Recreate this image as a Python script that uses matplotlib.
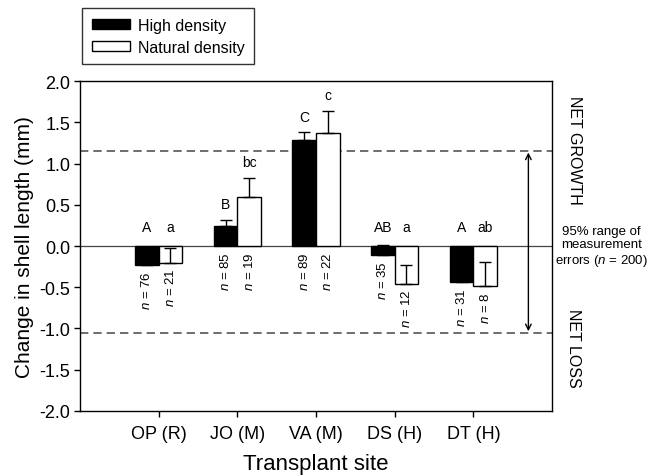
import numpy as np
import matplotlib
matplotlib.use("Agg")
import matplotlib.pyplot as plt

plt.rcParams['font.family'] = ['Liberation Sans', 'DejaVu Sans']
plt.rcParams['mathtext.fontset'] = 'custom'
plt.rcParams['mathtext.rm'] = 'Liberation Sans'
plt.rcParams['mathtext.it'] = 'Liberation Sans:italic'

# data
sites = ['OP (R)', 'JO (M)', 'VA (M)', 'DS (H)', 'DT (H)']
high_mean = [-0.23, 0.24, 1.28, -0.11, -0.44]
high_err = [0.10, 0.08, 0.10, 0.12, 0.10]
nat_mean = [-0.20, 0.60, 1.37, -0.455, -0.49]
nat_err = [0.17, 0.23, 0.27, 0.225, 0.30]
high_letters = ['A', 'B', 'C', 'AB', 'A']
nat_letters = ['a', 'bc', 'c', 'a', 'ab']
high_n = [76, 85, 89, 35, 31]
nat_n = [21, 19, 22, 12, 8]
upper_limit = 1.15
lower_limit = -1.05

fig = plt.figure(figsize=(6.53, 4.77), dpi=100)
ax = fig.add_axes([0.1225, 0.1363, 0.7228, 0.6917])

x = np.arange(1, len(sites) + 1)
w = 0.3

ax.axhline(0, color='#444444', lw=0.9, zorder=1)
ax.axhline(upper_limit, color='#555555', lw=1.2, ls=(0, (5, 3)), zorder=1)
ax.axhline(lower_limit, color='#555555', lw=1.2, ls=(0, (5, 3)), zorder=1)

ekw = dict(ecolor='black', elinewidth=1, capsize=4.5, capthick=1)
ax.bar(x - w / 2, high_mean, w, color='black', edgecolor='black', lw=1,
       yerr=[np.zeros(5), high_err], error_kw=ekw, zorder=2, label='High density')
ax.bar(x + w / 2, nat_mean, w, color='white', edgecolor='black', lw=1,
       yerr=[np.zeros(5), nat_err], error_kw=ekw, zorder=2, label='Natural density')

# significance letters and sample sizes
for xs, means, errs, letters, ns in [(x - w / 2, high_mean, high_err, high_letters, high_n),
                                     (x + w / 2, nat_mean, nat_err, nat_letters, nat_n)]:
    for xi, m, e, lab, n in zip(xs, means, errs, letters, ns):
        ytop = max(m + e, 0.05) + 0.1
        ax.text(xi, ytop, lab, ha='center', va='bottom', fontsize=10)
        ax.text(xi, min(m, 0) - 0.06, '$n$ = %d' % n, rotation=90,
                ha='center', va='top', fontsize=9.5)

ax.annotate('', xy=(5.7, upper_limit), xytext=(5.7, lower_limit),
            arrowprops=dict(arrowstyle='<->', color='black', lw=1,
                            mutation_scale=10, shrinkA=1, shrinkB=1))

ax.text(6.28, 1.17, 'NET GROWTH', rotation=270, ha='center', va='center',
        fontsize=11.5, clip_on=False)
ax.text(6.27, -1.23, 'NET LOSS', rotation=270, ha='center', va='center',
        fontsize=11.5, clip_on=False)
ax.text(6.63, 0.0, '95% range of\nmeasurement\nerrors ($n$ = 200)',
        ha='center', va='center', fontsize=9.5, clip_on=False, linespacing=1.15)

ax.set_xlim(0, 6)
ax.set_ylim(-2, 2)
ax.set_xticks(x)
ax.set_xticklabels(sites)
ax.set_yticks(np.arange(-2, 2.01, 0.5))
ax.set_yticklabels(['%.1f' % v for v in np.arange(-2, 2.01, 0.5)])
ax.tick_params(direction='out', length=4, width=1, labelsize=13, pad=3)
ax.tick_params(axis='x', pad=6)
for s in ax.spines.values():
    s.set_linewidth(1)

ax.set_xlabel('Transplant site', fontsize=16, labelpad=8)
ax.set_ylabel('Change in shell length (mm)', fontsize=15, labelpad=4)

leg = fig.legend(loc='upper left', bbox_to_anchor=(82 / 653, 1 - 9 / 477),
                 fontsize=11.5, frameon=True, fancybox=False, edgecolor='black',
                 handlelength=2.4, handleheight=0.65, handletextpad=0.5,
                 borderaxespad=0, borderpad=0.6, labelspacing=0.45)
leg.get_frame().set_linewidth(1)

fig.savefig('out.png', dpi=100)
